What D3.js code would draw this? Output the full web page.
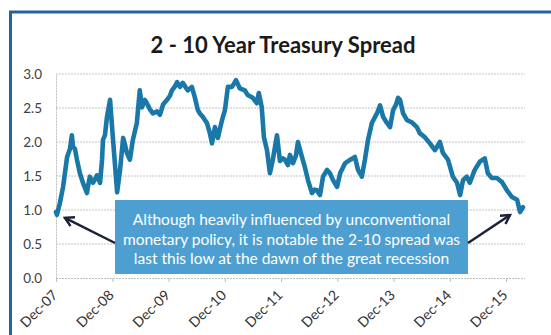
<!DOCTYPE html>
<html>
<head>
<meta charset="utf-8">
<script src="https://cdn.jsdelivr.net/npm/d3@7"></script>
<style>
  html, body { margin: 0; padding: 0; background: #ffffff; }
  svg { display: block; }
</style>
</head>
<body>
<svg id="chart" width="551" height="335"></svg>
<script>
// 2-10 year Treasury spread (10y minus 2y yield), percent
const dates = [
  "2007-12-01","2007-12-07","2007-12-26","2008-01-16","2008-02-11","2008-03-01","2008-03-13","2008-03-20",
  "2008-04-02","2008-04-15","2008-05-04","2008-05-24","2008-06-19","2008-06-26","2008-07-08","2008-07-28",
  "2008-08-10","2008-08-23","2008-09-12","2008-09-25","2008-10-01","2008-10-14","2008-10-27","2008-11-16",
  "2008-11-29","2008-12-12","2009-01-01","2009-01-20","2009-02-09","2009-02-22","2009-03-05","2009-03-25",
  "2009-04-13","2009-05-09","2009-05-28","2009-06-11","2009-06-30","2009-07-13","2009-08-02","2009-08-21",
  "2009-09-17","2009-10-06","2009-10-26","2009-11-21","2009-12-10","2009-12-23","2010-01-12","2010-01-25",
  "2010-02-13","2010-03-03","2010-03-23","2010-04-05","2010-05-01","2010-05-20","2010-06-09","2010-06-22",
  "2010-07-11","2010-08-07","2010-08-26","2010-09-09","2010-09-28","2010-10-17","2010-10-31","2010-11-13",
  "2010-12-02","2010-12-21","2011-01-17","2011-02-12","2011-03-08","2011-04-10","2011-04-29","2011-06-01",
  "2011-06-27","2011-07-10","2011-07-29","2011-08-12","2011-09-01","2011-09-20","2011-10-09","2011-11-05",
  "2011-11-24","2011-12-13","2011-12-26","2012-01-15","2012-01-28","2012-02-17","2012-03-07","2012-03-20",
  "2012-04-15","2012-05-04","2012-05-24","2012-06-19","2012-07-08","2012-07-21","2012-08-10","2012-08-30",
  "2012-09-25","2012-10-14","2012-11-03","2012-11-29","2012-12-19","2013-01-21","2013-02-23","2013-03-25",
  "2013-04-14","2013-05-09","2013-05-29","2013-06-18","2013-07-13","2013-08-15","2013-09-04","2013-09-24",
  "2013-10-19","2013-11-08","2013-11-28","2013-12-17","2013-12-30","2014-01-12","2014-02-01","2014-02-26",
  "2014-03-30","2014-05-01","2014-05-20","2014-06-22","2014-07-25","2014-08-26","2014-09-28","2014-10-17",
  "2014-11-19","2014-12-21","2015-01-17","2015-02-06","2015-02-25","2015-03-21","2015-04-10","2015-05-12",
  "2015-06-14","2015-07-16","2015-08-05","2015-08-31","2015-10-03","2015-11-05","2015-12-07","2016-01-09",
  "2016-02-11","2016-03-01","2016-03-20"
];
const spread = [
  0.97,0.93,1.10,1.34,1.78,1.90,2.10,1.93,
  1.90,1.74,1.54,1.40,1.25,1.35,1.49,1.40,
  1.45,1.51,1.40,1.74,2.03,2.10,2.37,2.62,
  2.22,1.84,1.26,1.59,2.06,1.95,1.84,1.74,
  2.03,2.28,2.76,2.51,2.62,2.57,2.48,2.42,
  2.45,2.40,2.55,2.62,2.68,2.76,2.82,2.88,
  2.81,2.87,2.80,2.76,2.81,2.66,2.47,2.42,
  2.37,2.28,2.13,1.98,2.22,2.06,2.20,2.32,
  2.47,2.81,2.81,2.91,2.79,2.76,2.69,2.65,
  2.57,2.72,2.51,2.07,1.88,1.54,1.74,2.10,
  1.72,1.76,1.74,1.66,1.81,1.69,1.80,2.00,
  1.78,1.63,1.44,1.25,1.30,1.29,1.22,1.49,
  1.59,1.54,1.44,1.34,1.54,1.69,1.74,1.78,
  1.59,1.49,1.74,2.03,2.28,2.42,2.54,2.37,
  2.28,2.22,2.47,2.55,2.65,2.62,2.42,2.32,
  2.29,2.22,2.13,2.07,1.98,1.88,2.00,1.84,
  1.74,1.49,1.40,1.22,1.44,1.49,1.40,1.59,
  1.71,1.76,1.54,1.47,1.47,1.41,1.29,1.19,
  1.15,0.97,1.04
];
const yTicks = [0, 0.5, 1.0, 1.5, 2.0, 2.5, 3.0];
const xTickDates = ["2007-12-01","2008-12-01","2009-12-01","2010-12-01","2011-12-01",
                    "2012-12-01","2013-12-01","2014-12-01","2015-12-01"];
const titleText = "2 - 10 Year Treasury Spread";
const noteLines = [
  "Although heavily influenced by unconventional",
  "monetary policy, it is notable the 2-10 spread was",
  "last this low at the dawn of the great recession"
];

const parse = d3.utcParse("%Y-%m-%d");
const series = dates.map((d, i) => ({ date: parse(d), value: spread[i] }));
const tickDates = xTickDates.map(parse);

const svg = d3.select("#chart");
const font = "Lato, 'Open Sans', sans-serif";

// outer frame (open on the right and bottom)
svg.append("path")
  .attr("d", "M10.5,335 V12 H551")
  .attr("fill", "none")
  .attr("stroke", "#2462a6")
  .attr("stroke-width", 3);

// title
svg.append("text")
  .attr("x", 283).attr("y", 53)
  .attr("text-anchor", "middle")
  .attr("font-family", font)
  .attr("font-weight", "bold")
  .attr("font-size", 22)
  .attr("fill", "#1a1a1a")
  .text(titleText);

const plot = { left: 56, right: 525, top: 74, bottom: 278 };

const x = d3.scaleUtc()
  .domain([parse("2007-12-01"), parse("2015-12-01")])
  .range([plot.left, 506]);
const y = d3.scaleLinear().domain([0, 3]).range([plot.bottom, plot.top]);

// horizontal gridlines
svg.append("g")
  .selectAll("line")
  .data(yTicks.filter(t => t > 0))
  .join("line")
  .attr("x1", plot.left).attr("x2", plot.right)
  .attr("y1", d => y(d)).attr("y2", d => y(d))
  .attr("stroke", "#c4c4c4")
  .attr("stroke-width", 1)
  .attr("stroke-dasharray", "2,1");

// y axis
const yAxis = svg.append("g")
  .attr("transform", `translate(${plot.left},0)`)
  .call(d3.axisLeft(y).tickValues(yTicks).tickFormat(d3.format(".1f")).tickSize(0).tickPadding(14));
yAxis.select(".domain").attr("stroke", "#bdbdbd").attr("stroke-dasharray", "2,1");
yAxis.selectAll("text")
  .attr("font-family", font)
  .attr("font-size", 13.5)
  .attr("fill", "#404040");

// x axis
const xAxis = svg.append("g")
  .attr("transform", `translate(0,${plot.bottom})`)
  .call(d3.axisBottom(x).tickValues(tickDates).tickFormat(d3.utcFormat("%b-%y")).tickSize(4).tickSizeOuter(0));
xAxis.select(".domain")
  .attr("d", `M${plot.left},0.5H${plot.right}`)
  .attr("stroke", "#bdbdbd").attr("stroke-dasharray", "2,1");
xAxis.selectAll(".tick line").attr("stroke", "#bdbdbd");
xAxis.selectAll("text")
  .attr("font-family", font)
  .attr("font-size", 14)
  .attr("fill", "#333333")
  .attr("text-anchor", "end")
  .attr("x", 0).attr("y", 0).attr("dy", 0)
  .attr("transform", "translate(2,18) rotate(-45)");

// spread line
const line = d3.line()
  .x(d => x(d.date))
  .y(d => y(d.value));
svg.append("path")
  .datum(series)
  .attr("d", line)
  .attr("fill", "none")
  .attr("stroke", "#1a78a8")
  .attr("stroke-width", 4.6)
  .attr("stroke-linejoin", "round")
  .attr("stroke-linecap", "round");

// annotation box
const box = { x: 115, y: 200, w: 353, h: 74 };
svg.append("rect")
  .attr("x", box.x).attr("y", box.y)
  .attr("width", box.w).attr("height", box.h)
  .attr("fill", "#4d9fd2");
svg.append("g")
  .selectAll("text")
  .data(noteLines)
  .join("text")
  .attr("x", box.x + box.w / 2)
  .attr("y", (d, i) => box.y + 25 + i * 19.5)
  .attr("text-anchor", "middle")
  .attr("font-family", font)
  .attr("font-size", 15.5)
  .attr("fill", "#ffffff")
  .text(d => d);

// arrows pointing at the first and last low points
const first = series[1];
const last = series[series.length - 2];
svg.append("defs").append("marker")
  .attr("id", "head")
  .attr("viewBox", "0 0 10 10")
  .attr("refX", 8).attr("refY", 5)
  .attr("markerWidth", 5).attr("markerHeight", 5)
  .attr("orient", "auto")
  .append("path")
  .attr("d", "M1,1 L8,5 L1,9")
  .attr("fill", "none")
  .attr("stroke", "#1c2236")
  .attr("stroke-width", 2);
const arrows = [
  { x1: box.x, y1: 243, x2: x(first.date) + 8, y2: y(first.value) + 3 },
  { x1: box.x + box.w, y1: 243, x2: x(last.date) - 10, y2: y(last.value) + 3 }
];
svg.append("g")
  .selectAll("line")
  .data(arrows)
  .join("line")
  .attr("x1", d => d.x1).attr("y1", d => d.y1)
  .attr("x2", d => d.x2).attr("y2", d => d.y2)
  .attr("stroke", "#1c2236")
  .attr("stroke-width", 2.5)
  .attr("marker-end", "url(#head)");
</script>
</body>
</html>
